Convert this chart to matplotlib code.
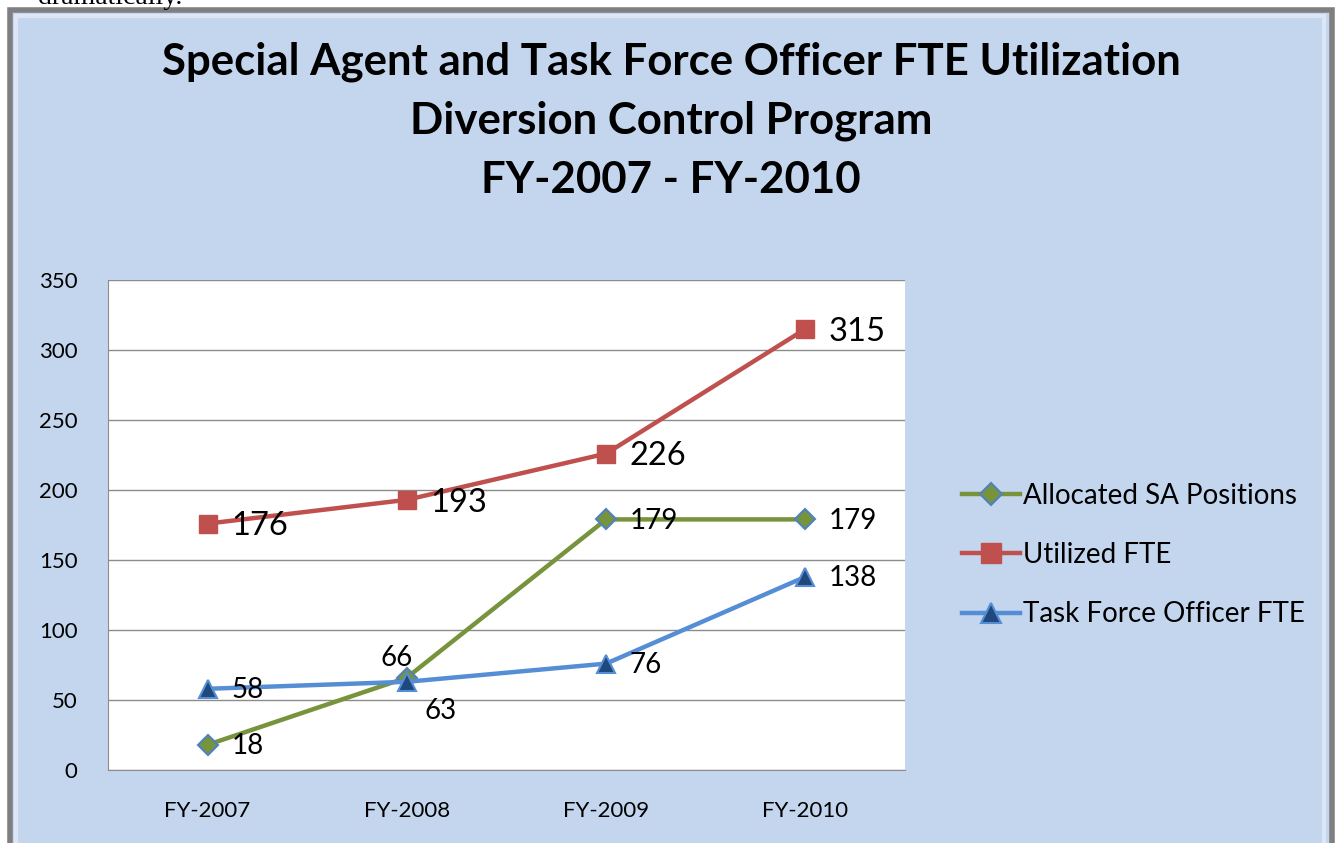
import matplotlib
matplotlib.use("Agg")
import matplotlib.pyplot as plt
from matplotlib.patches import Rectangle
from matplotlib.lines import Line2D

years = ["FY-2007", "FY-2008", "FY-2009", "FY-2010"]
allocated = [18, 66, 179, 179]
utilized = [176, 193, 226, 315]
task_force = [58, 63, 76, 138]
series_names = ["Allocated SA Positions", "Utilized FTE", "Task Force Officer FTE"]
title_lines = ["Special Agent and Task Force Officer FTE Utilization",
               "Diversion Control Program",
               "FY-2007 - FY-2010"]

plt.rcParams['font.family'] = ['Lato', 'DejaVu Sans']

W, H = 1335, 843
fig = plt.figure(figsize=(W / 100, H / 100), dpi=100)
fig.patch.set_facecolor('white')

def fx(px):
    return px / W

def fy(py):
    return 1 - py / H

# chart background box with a bevelled grey edge
fig.patches.append(Rectangle((fx(10), fy(850)), fx(1322), 840 / H,
                             transform=fig.transFigure, facecolor='#C4D6EE',
                             edgecolor='#7F7F7F', linewidth=4, zorder=-2))
fig.patches.append(Rectangle((fx(16), fy(850)), fx(1308), 834 / H,
                             transform=fig.transFigure, facecolor='none',
                             edgecolor='#DCE6F4', linewidth=3, zorder=-1))

# text from the page above the chart, cut off
fig.text(fx(38), fy(4), "dramatically.", family=['Liberation Serif'],
         fontsize=20, va='baseline', ha='left', color='black')

for i, line in enumerate(title_lines):
    fig.text(fx(671), fy(62 + 59 * i), line, ha='center', va='center',
             fontsize=31.5, fontweight='bold', color='black')

ax = fig.add_axes([fx(108), fy(770), fx(905 - 108), (770 - 280) / H])
ax.set_facecolor('white')
x = list(range(len(years)))

green = '#77933C'
red = '#C0504D'
blue = '#558ED5'

ax.plot(x, allocated, color=green, lw=3.2, marker='D', ms=10,
        mfc=green, mec='#4F81BD', mew=1.5, zorder=3)
ax.plot(x, utilized, color=red, lw=3.2, marker='s', ms=13,
        mfc=red, mec=red, zorder=4)
ax.plot(x, task_force, color=blue, lw=3.2, marker='^', ms=13,
        mfc='#1F497D', mec=blue, mew=1.5, zorder=5)

# data labels
for xi, v in zip(x, utilized):
    ax.annotate(str(v), (xi, v), xytext=(17, -2), textcoords='offset points',
                ha='left', va='center', fontsize=23.5, zorder=10)
green_off = [(17, -1), (4, 14), (17, -1), (17, -1)]
for xi, v, off in zip(x, allocated, green_off):
    ax.annotate(str(v), (xi, v), xytext=off, textcoords='offset points',
                ha='left' if off[0] > 5 else 'right', va='center',
                fontsize=20, zorder=10)
blue_off = [(17, -1), (13, -21), (17, -1), (17, -1)]
for xi, v, off in zip(x, task_force, blue_off):
    ax.annotate(str(v), (xi, v), xytext=off, textcoords='offset points',
                ha='left', va='center', fontsize=20, zorder=10)

ax.set_xlim(-0.5, 3.5)
ax.set_ylim(0, 350)
ax.set_yticks(range(0, 351, 50))
ax.set_xticks(x)
ax.set_xticklabels(years)
ax.tick_params(axis='both', length=0, labelsize=16)
ax.tick_params(axis='x', pad=22)
ax.tick_params(axis='y', pad=22)
ax.grid(axis='y', color='#8C8C8C', lw=1)
ax.set_axisbelow(True)
for side in ['top', 'right']:
    ax.spines[side].set_visible(False)
ax.spines['left'].set_color('#8C8C8C')
ax.spines['bottom'].set_color('#8C8C8C')

handles = [
    Line2D([], [], color=green, lw=3.2, marker='D', ms=11, mfc=green, mec='#4F81BD', mew=1.5),
    Line2D([], [], color=red, lw=3.2, marker='s', ms=14, mfc=red, mec=red),
    Line2D([], [], color=blue, lw=3.2, marker='^', ms=14, mfc='#1F497D', mec=blue, mew=1.5),
]
fig.legend(handles, series_names, loc='center left',
           bbox_to_anchor=(fx(937), fy(555)), frameon=False, fontsize=20,
           handlelength=2.1, handletextpad=0.1, labelspacing=1.2)

fig.savefig("out.png", dpi=100)
